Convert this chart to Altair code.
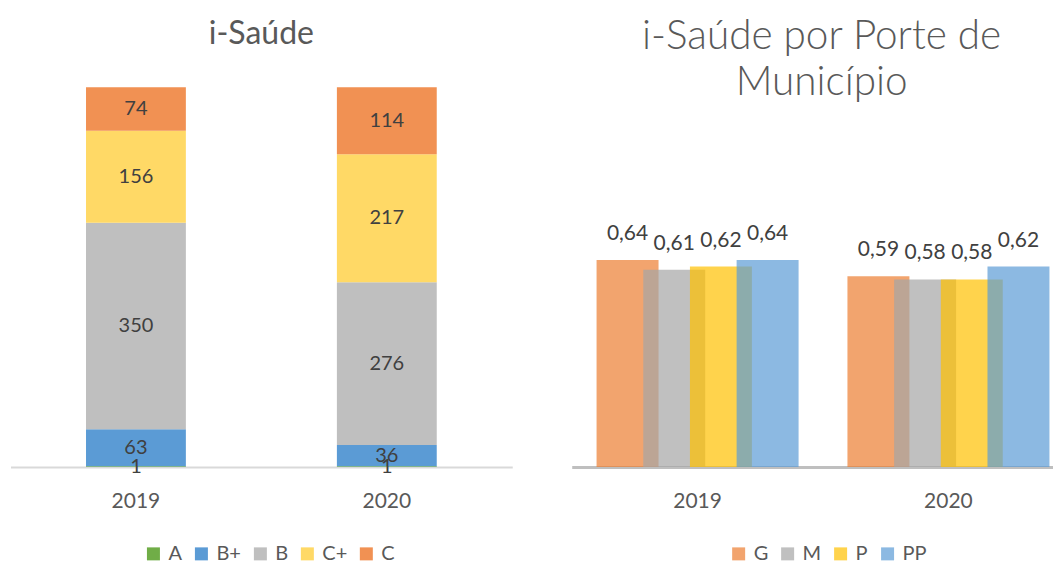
import altair as alt
import pandas as pd

# ---------------- data ----------------
years = ["2019", "2020"]

grades = ["A", "B+", "B", "C+", "C"]
count_A = [1, 1]
count_Bplus = [63, 36]
count_B = [350, 276]
count_Cplus = [156, 217]
count_C = [74, 114]
grade_colors = ["#70AD47", "#5B9BD5", "#BFBFBF", "#FFD966", "#F19153"]

portes = ["G", "M", "P", "PP"]
porte_G = [0.64, 0.59]
porte_M = [0.61, 0.58]
porte_P = [0.62, 0.58]
porte_PP = [0.64, 0.62]
porte_colors = ["#ED7D31", "#A5A5A5", "#FFC000", "#5B9BD5"]

left_rows = []
for gi, (g, vals) in enumerate(zip(grades, [count_A, count_Bplus, count_B, count_Cplus, count_C])):
    for yr, v in zip(years, vals):
        left_rows.append({"year": yr, "grade": g, "order": gi, "count": v})
df_left = pd.DataFrame(left_rows)

right_rows = []
for pi, (p, vals) in enumerate(zip(portes, [porte_G, porte_M, porte_P, porte_PP])):
    for yr, v in zip(years, vals):
        right_rows.append({"year": yr, "porte": p, "order": pi, "value": v})
df_right = pd.DataFrame(right_rows)

# ---------------- style ----------------
FONT = "Lato"
TXT = "#595959"
LBL = "#404040"
H = 413

# ---------------- left: stacked ----------------
stacked = alt.Chart(df_left).transform_stack(
    stack="count", groupby=["year"], as_=["y0", "y1"],
    sort=[alt.SortField("order", order="ascending")]
).transform_calculate(mid="(datum.y0 + datum.y1) / 2")

x_left = alt.X(
    "year:N", sort=years,
    scale=alt.Scale(paddingInner=0.602, paddingOuter=0.301),
    axis=alt.Axis(title=None, labelAngle=0, ticks=False, domainColor="#D9D9D9",
                  domainWidth=2, labelFont=FONT, labelFontSize=21, labelColor=TXT,
                  labelPadding=24),
)
y_scale_left = alt.Scale(domain=[0, 700], nice=False)

left_bars = stacked.mark_bar().encode(
    x=x_left,
    y=alt.Y("y0:Q", scale=y_scale_left, axis=None),
    y2="y1:Q",
    color=alt.Color(
        "grade:N",
        scale=alt.Scale(domain=grades, range=grade_colors),
        legend=alt.Legend(title=None, orient="none", direction="horizontal",
                          legendX=133, legendY=490, symbolType="square",
                          symbolSize=169, symbolStrokeWidth=0, labelFont=FONT,
                          labelFontSize=20, labelColor=TXT, columnPadding=9,
                          labelOffset=5),
    ),
)
left_text = stacked.mark_text(font=FONT, fontSize=20, color=LBL, baseline="middle").encode(
    x=x_left,
    y=alt.Y("mid:Q", scale=y_scale_left, axis=None),
    text="count:Q",
)
left = alt.layer(left_bars, left_text).properties(
    width=502, height=H,
    title=alt.TitleParams("i-Saúde", font=FONT, fontSize=32, fontWeight="normal",
                          color=TXT, baseline="alphabetic", offset=-81, dy=-59),
)

# ---------------- right: grouped overlapping ----------------
rbase = alt.Chart(df_right).transform_calculate(
    label="replace(format(datum.value, '.2f'), '.', ',')"
)
x_right = alt.X(
    "year:N", sort=years,
    scale=alt.Scale(paddingInner=0.195, paddingOuter=0.0557, align=0.89),
    axis=alt.Axis(title=None, labelAngle=0, ticks=False, domainColor="#BFBFBF",
                  domainWidth=3, labelFont=FONT, labelFontSize=21, labelColor=TXT,
                  labelPadding=24),
)
xo = alt.XOffset("porte:N", sort=portes, scale=alt.Scale(paddingInner=0, paddingOuter=0.163))
y_scale_right = alt.Scale(domain=[0, 1.277], nice=False)

right_bars = rbase.mark_bar(width=62, opacity=0.7).encode(
    x=x_right, xOffset=xo,
    y=alt.Y("value:Q", scale=y_scale_right, axis=None),
    color=alt.Color(
        "porte:N",
        scale=alt.Scale(domain=portes, range=porte_colors),
        legend=alt.Legend(title=None, orient="none", direction="horizontal",
                          legendX=157, legendY=490, symbolType="square",
                          symbolSize=169, symbolStrokeWidth=0, symbolOpacity=0.7,
                          labelFont=FONT, labelFontSize=20, labelColor=TXT,
                          columnPadding=9, labelOffset=5),
    ),
    order=alt.Order("order:Q"),
)
right_text = rbase.mark_text(font=FONT, fontSize=21, color=LBL, baseline="middle", dy=-26).encode(
    x=x_right, xOffset=xo,
    y=alt.Y("value:Q", scale=y_scale_right, axis=None),
    text="label:N",
)
right = alt.layer(right_bars, right_text).properties(
    width=481, height=H,
    title=alt.TitleParams(["i-Saúde por Porte de", "Município"], font=FONT, fontSize=40.5,
                          fontWeight=300, color=TXT, baseline="alphabetic",
                          lineHeight=46, offset=-81, dx=9.5),
)

chart = alt.hconcat(left, right, spacing=59.5).resolve_scale(
    color="independent", x="independent", y="independent"
).properties(
    padding={"left": 2.5, "top": 8, "right": 0, "bottom": 0}
).configure_view(stroke=None)

chart.save("out.html", embed_options={"renderer": "svg", "actions": False})
